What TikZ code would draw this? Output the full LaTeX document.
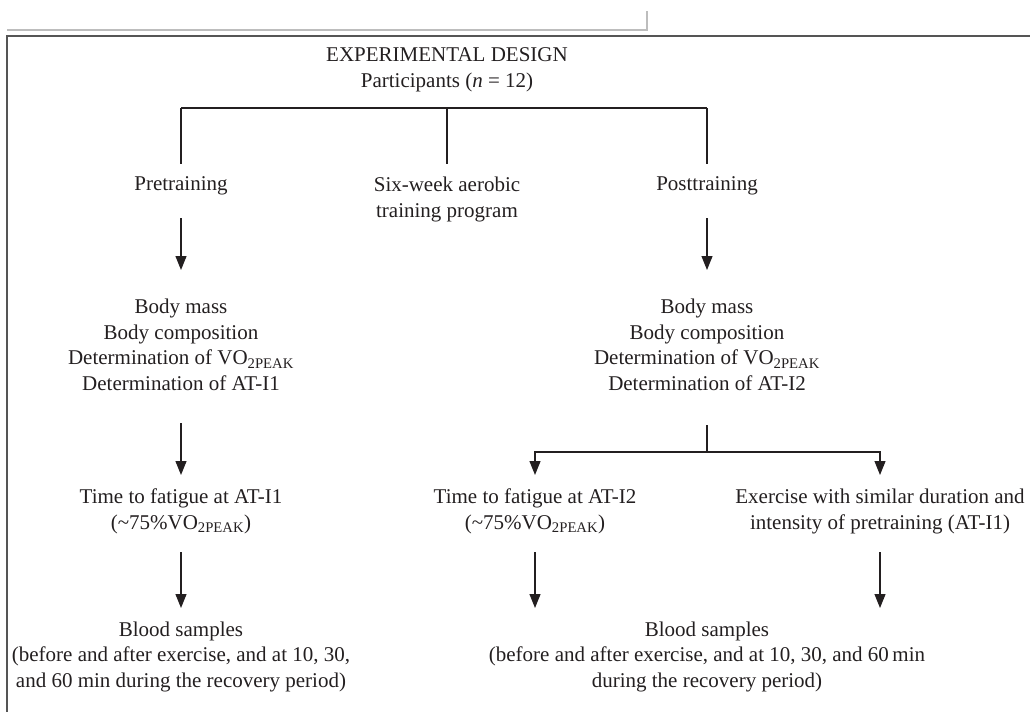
\documentclass[tikz,border=0pt]{standalone}
\usepackage{fontspec}
\setmainfont{Liberation Serif}
\usetikzlibrary{arrows.meta}
\definecolor{ink}{HTML}{231F20}
\definecolor{framec}{HTML}{555555}
\definecolor{lightc}{HTML}{BDBDBD}
\newcommand{\pksub}{\textsubscript{2PEAK}}
\tikzset{
  txt/.style={inner sep=0pt, align=center, text=ink, font=\fontsize{21}{25.5}\selectfont},
  conn/.style={draw=ink, line width=1.2pt},
  arr/.style={conn, -{Triangle[length=14pt,width=11pt]}},
}
\begin{document}
\begin{tikzpicture}[x=1pt,y=1pt]
\useasboundingbox (0,0) rectangle (1030,-712);
% page furniture
\draw[lightc, line width=2pt] (7,-30) -- (647,-30) -- (647,-11);
\draw[framec, line width=2pt] (1030,-35.5) -- (7,-35.5) -- (7,-712);

% nodes
\node[txt] (top) at (447,-70) {EXPERIMENTAL DESIGN\\Participants (\textit{n} = 12)};
\node[txt] (pre) at (181,-186) {Pretraining};
\node[txt] (six) at (447,-199.5) {Six-week aerobic\\training program};
\node[txt] (post) at (707,-186) {Posttraining};
\node[txt] (bodyL) at (181,-345) {Body mass\\Body composition\\Determination of VO\pksub\\Determination of AT-I1};
\node[txt] (bodyR) at (707,-345) {Body mass\\Body composition\\Determination of VO\pksub\\Determination of AT-I2};
\node[txt] (fatL) at (181,-511.5) {Time to fatigue at AT-I1\\(\textasciitilde75\%VO\pksub)};
\node[txt] (fatR) at (535,-511.5) {Time to fatigue at AT-I2\\(\textasciitilde75\%VO\pksub)};
\node[txt] (exer) at (880,-511.5) {Exercise with similar duration and\\intensity of pretraining (AT-I1)};
\node[txt] (bloodL) at (181,-656.5) {Blood samples\\(before and after exercise, and at 10, 30,\\and 60 min during the recovery period)};
\node[txt] (bloodR) at (707,-656.5) {Blood samples\\(before and after exercise, and at 10, 30, and 60\,min\\during the recovery period)};

% top branching
\coordinate (br) at (447,-108);
\draw[conn] (pre.center |- br) -- (post.center |- br);
\draw[conn, shorten >=22pt] (pre.center |- br) -- (pre.center);
\draw[conn, shorten >=35.5pt] (br) -- (six.center);
\draw[conn, shorten >=22pt] (post.center |- br) -- (post.center);

% left column
\draw[arr, shorten <=32pt, shorten >=75pt] (pre.center) -- (bodyL.center);
\draw[arr, shorten <=78pt, shorten >=36.5pt] (bodyL.center) -- (fatL.center);
\draw[arr, shorten <=40.5pt, shorten >=48.5pt] (fatL.center) -- (bloodL.center);

% right column
\draw[arr, shorten <=32pt, shorten >=75pt] (post.center) -- (bodyR.center);
\coordinate (split) at (707,-452);
\draw[conn, shorten <=80pt] (bodyR.center) -- (split);
\draw[arr, shorten >=36.5pt] (split) -| (fatR.center);
\draw[arr, shorten >=36.5pt] (split) -| (exer.center);
\draw[arr, shorten <=40.5pt, shorten >=48.5pt] (fatR.center) -- (fatR.center |- bloodR.center);
\draw[arr, shorten <=40.5pt, shorten >=48.5pt] (exer.center) -- (exer.center |- bloodR.center);
\end{tikzpicture}
\end{document}
